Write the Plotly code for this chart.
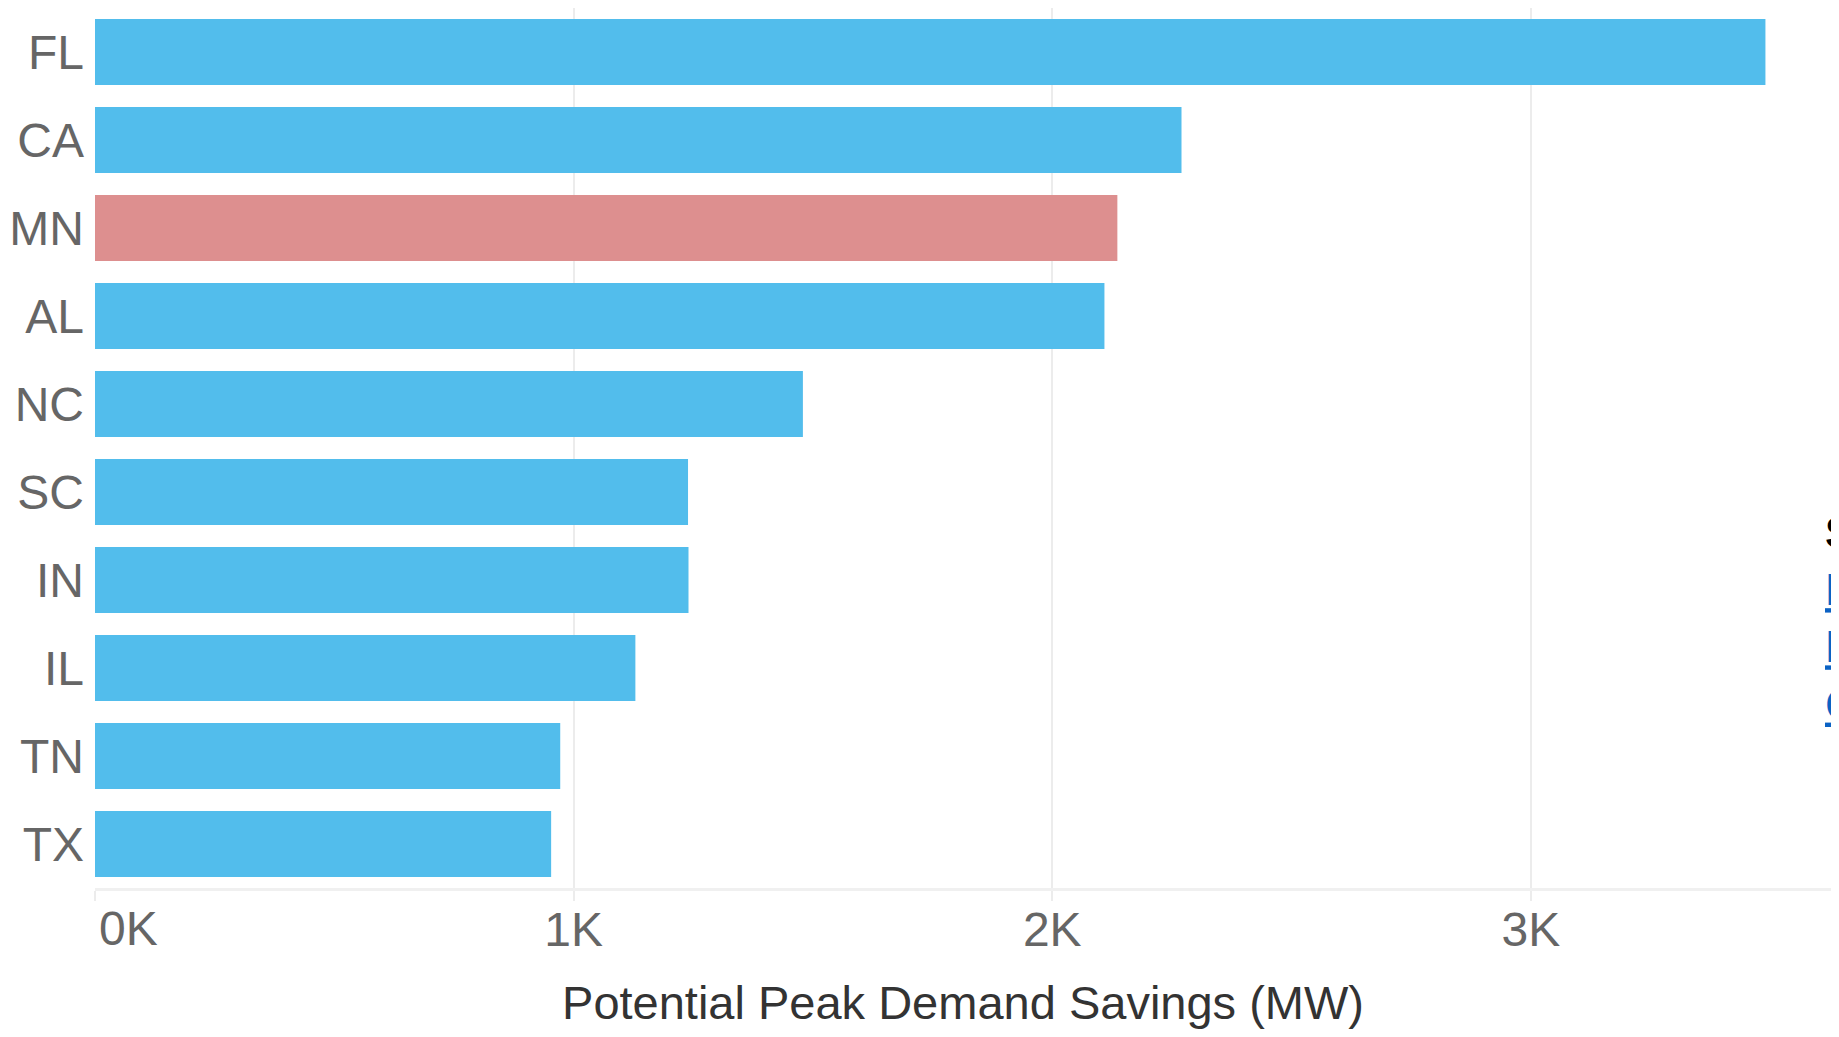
import plotly.graph_objects as go

states = ["FL", "CA", "MN", "AL", "NC", "SC", "IN", "IL", "TN", "TX"]
savings_mw = [3490, 2270, 2136, 2109, 1479, 1239, 1240, 1129, 972, 953]
highlight = "MN"

tick_vals = [0, 1000, 2000, 3000]
tick_text = ["", "1K", "2K", "3K"]

BLUE = "#52bdec"
RED = "#dd8f8f"
FONT = "Liberation Sans, Arial, Helvetica, sans-serif"

bar_colors = [RED if s == highlight else BLUE for s in states]

fig = go.Figure(
    go.Bar(
        x=savings_mw,
        y=states,
        orientation="h",
        marker=dict(color=bar_colors, line=dict(width=0)),
        hovertemplate="%{y}: %{x:,} MW<extra></extra>",
    )
)

# the source note sits right at the edge and is mostly cut off, like in the original
fig.update_layout(
    width=1823,
    height=1021,
    margin=dict(l=87, r=0, t=0, b=141, autoexpand=False),
    plot_bgcolor="white",
    paper_bgcolor="white",
    font=dict(family=FONT, size=48, color="#666666"),
    bargap=0.25,
    showlegend=False,
    xaxis=dict(
        range=[0, 3627],
        tickvals=tick_vals,
        ticktext=tick_text,
        showgrid=True,
        gridcolor="#ececec",
        gridwidth=2,
        zeroline=False,
        showline=True,
        linecolor="#f0f0f0",
        linewidth=3,
        ticks="outside",
        ticklen=10,
        tickwidth=2,
        tickcolor="#ececec",
        ticklabelstandoff=-13,
        tickfont=dict(size=48, color="#666666"),
        automargin=False,
        title=dict(
            text="Potential Peak Demand Savings (MW)",
            font=dict(size=47, color="#333333"),
            standoff=60,
        ),
    ),
    yaxis=dict(
        autorange="reversed",
        showgrid=False,
        zeroline=False,
        showline=False,
        ticks="",
        ticklabelstandoff=10,
        automargin=False,
        tickfont=dict(size=48, color="#666666"),
    ),
    annotations=[
        # first x tick label sits right of its tick, as in the source chart
        dict(
            x=0, y=0, xref="x", yref="paper",
            xanchor="left", yanchor="top", yshift=-12, xshift=2,
            text="0K", showarrow=False,
            font=dict(size=48, color="#666666", family=FONT),
        ),
        dict(
            x=0.9955, y=0.434, xref="paper", yref="paper",
            xanchor="left", yanchor="top", align="left",
            showarrow=False,
            font=dict(size=44, color="#000000", family=FONT),
            text=(
                "<b>Source:</b><br>"
                "<a href='https://www.eia.gov' style='color:#0b62c4'>"
                "<span style='text-decoration:underline'>EIA Form 861</span></a><br>"
                "<a href='https://www.energy.gov' style='color:#0b62c4'>"
                "<span style='text-decoration:underline'>DOE Analysis</span></a><br>"
                "<a href='https://www.census.gov' style='color:#0b62c4'>"
                "<span style='text-decoration:underline'>Census Data</span></a>"
            ),
        ),
    ],
)

fig.write_html("out.html")
